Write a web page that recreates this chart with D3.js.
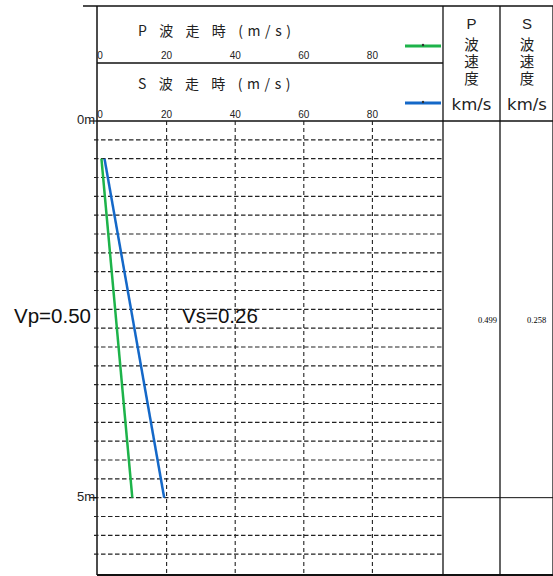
<!DOCTYPE html>
<html><head><meta charset="utf-8">
<script src="https://cdn.jsdelivr.net/npm/d3@7"></script>
<style>body{margin:0;background:#fff}svg{display:block}</style>
</head><body>
<svg id="c" width="553" height="576"></svg>
<script>
// data
const depths = [0.5, 5.0];            // m
const pTimes = [1.0, 10.0];           // ms
const sTimes = [1.9, 19.3];           // ms
const xTicks = [0, 20, 40, 60, 80];
const depthLabels = [{d: 0, t: "0m"}, {d: 5, t: "5m"}];
const vpText = "Vp=0.50", vsText = "Vs=0.26";
const pVel = "0.499", sVel = "0.258";
const pHeader = {wave: "P", word: "波速度", unit: "km/s"};
const sHeader = {wave: "S", word: "波速度", unit: "km/s"};

const svg = d3.select("#c");
const x = d3.scaleLinear().domain([0, 100]).range([98, 441]);
const y = d3.scaleLinear().domain([0, 6]).range([121, 573]);
const colX = [443, 500, 553];
const jp = "'Noto Sans CJK JP', sans-serif";

// frame lines
const solid = (x1, y1, x2, y2, w) => svg.append("line").attr("x1", x1).attr("y1", y1).attr("x2", x2).attr("y2", y2)
  .attr("stroke", "#111").attr("stroke-width", w || 1.2);
solid(83, 6, 553, 6, 1.5);
solid(97, 63, 443, 63, 1.3);
solid(97, 121, 553, 121, 1.3);
solid(97, 575, 553, 575, 2);
solid(97, 6, 97, 575, 1.5);
colX.forEach(cx => solid(cx, 6, cx, 575, 1.3));
solid(443, y(5), 553, y(5), 1);

// dashed grid
const hLines = d3.range(0.25, 6, 0.25);
svg.append("g").selectAll("line").data(hLines).join("line")
  .attr("x1", 94).attr("x2", 443).attr("y1", d => y(d)).attr("y2", d => y(d))
  .attr("stroke", "#222").attr("stroke-width", 1.1).attr("stroke-dasharray", "4.5,2.5");
svg.append("g").selectAll("line").data(xTicks.slice(1)).join("line")
  .attr("x1", d => x(d)).attr("x2", d => x(d)).attr("y1", 121).attr("y2", 575)
  .attr("stroke", "#222").attr("stroke-width", 1.1).attr("stroke-dasharray", "4,3");

// depth ticks + labels
depthLabels.forEach(o => {
  solid(90, y(o.d), 97, y(o.d), 1.2);
  svg.append("text").attr("x", 95).attr("y", y(o.d) + 3).attr("text-anchor", "end")
    .attr("font-family", "Liberation Sans, Arial, sans-serif").attr("font-size", 13).attr("fill", "#222").text(o.t);
});

// axis tick labels (P and S)
[59, 118].forEach(yy => {
  svg.append("g").selectAll("text").data(xTicks).join("text")
    .attr("x", d => x(d) + (d === 0 ? 2 : 0)).attr("y", yy).attr("text-anchor", "middle")
    .attr("font-family", "Liberation Sans Narrow, Liberation Sans, Arial, sans-serif").attr("font-size", 10).attr("fill", "#222")
    .text(d => d);
});

// header titles
svg.append("text").attr("x", 138).attr("y", 36).attr("font-family", jp).attr("font-size", 14)
  .attr("letter-spacing", 4.6).attr("fill", "#222").text("P 波 走 時 (m/s)");
svg.append("text").attr("x", 138).attr("y", 89).attr("font-family", jp).attr("font-size", 14)
  .attr("letter-spacing", 4.6).attr("fill", "#222").text("S 波 走 時 (m/s)");

// legend swatches
[[46, "#1db34a"], [103, "#1468c8"]].forEach(([yy, c]) => {
  svg.append("line").attr("x1", 405).attr("x2", 441).attr("y1", yy).attr("y2", yy)
    .attr("stroke", c).attr("stroke-width", 3);
  svg.append("circle").attr("cx", 423).attr("cy", yy - 1).attr("r", 1.2).attr("fill", "#333");
});

// right column headers
[[pHeader, 471.5], [sHeader, 527]].forEach(([h, cx]) => {
  svg.append("text").attr("x", cx).attr("y", 29).attr("text-anchor", "middle")
    .attr("font-family", "Liberation Sans, Arial, sans-serif").attr("font-size", 15).attr("fill", "#222").text(h.wave);
  svg.append("text").attr("x", cx).attr("y", 37.5)
    .style("writing-mode", "vertical-rl").attr("letter-spacing", 2.5)
    .attr("font-family", jp).attr("font-size", 14.5).attr("fill", "#222").text(h.word);
  svg.append("text").attr("x", cx).attr("y", 110).attr("text-anchor", "middle")
    .attr("font-family", "DejaVu Sans, sans-serif").attr("font-size", 16.5).attr("fill", "#222").text(h.unit);
});
svg.append("text").attr("x", 497).attr("y", 323).attr("text-anchor", "end")
  .attr("font-family", "Liberation Serif, serif").attr("font-size", 8.5).attr("fill", "#000").text(pVel);
svg.append("text").attr("x", 527).attr("y", 323)
  .attr("font-family", "Liberation Serif, serif").attr("font-size", 8.5).attr("fill", "#000").text(sVel);

// velocity labels
svg.append("text").attr("x", 14).attr("y", 323).attr("font-family", "Liberation Sans, Arial, sans-serif")
  .attr("font-size", 20.5).attr("fill", "#111").text(vpText);
svg.append("text").attr("x", 182).attr("y", 323).attr("font-family", "Liberation Sans, Arial, sans-serif")
  .attr("font-size", 20.5).attr("fill", "#111").text(vsText);

// travel-time lines
const line = d3.line().x(d => x(d[0])).y(d => y(d[1]));
svg.append("path").datum(pTimes.map((t, i) => [t, depths[i]])).attr("d", line)
  .attr("fill", "none").attr("stroke", "#1db34a").attr("stroke-width", 2.5);
svg.append("path").datum(sTimes.map((t, i) => [t, depths[i]])).attr("d", line)
  .attr("fill", "none").attr("stroke", "#1468c8").attr("stroke-width", 2.5);
</script>
</body></html>
